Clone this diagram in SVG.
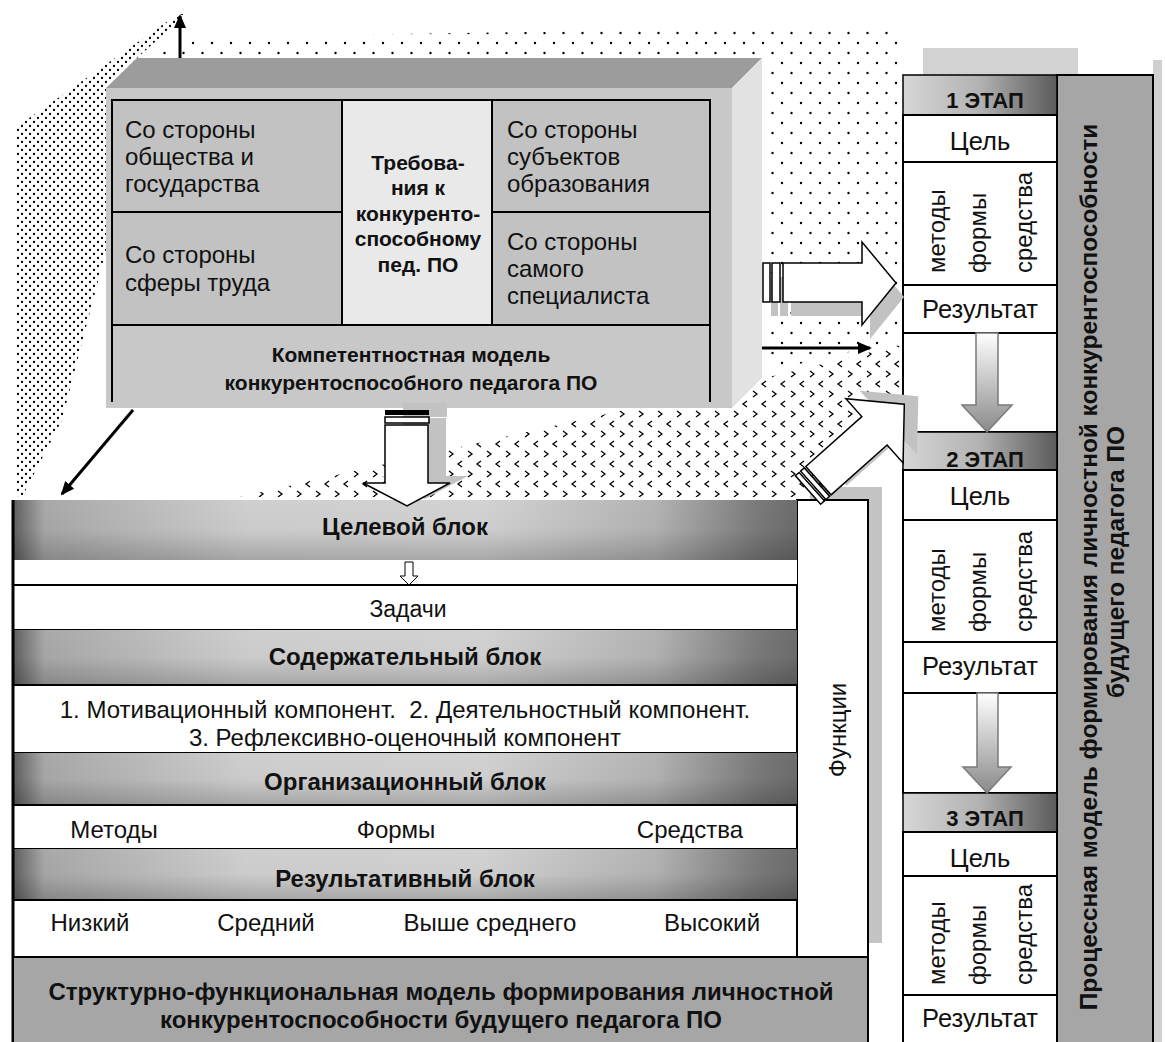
<svg xmlns="http://www.w3.org/2000/svg" width="1165" height="1042" viewBox="0 0 1165 1042">
<defs>
<style>
text{font-family:"Liberation Sans",Arial,sans-serif;fill:#111}
.r{font-size:24px}
.rs{font-size:24px}
.st{font-size:25.5px}
.b{font-size:24px;font-weight:bold}
.bm{font-size:21px;font-weight:bold}
.c{text-anchor:middle}
.ln{stroke:#000;stroke-width:2;fill:none}
.wr{fill:#fff;stroke:#000;stroke-width:2}
.wa{fill:#fff;stroke:#000;stroke-width:1.5}
.sh{fill:#c2c2c2}
.sg{fill:url(#gStage);stroke:#000;stroke-width:1.5}
.da{fill:url(#gArr);stroke:#7a7a7a;stroke-width:1.5}
.conn{stroke:#000;stroke-width:3;fill:none;marker-end:url(#ah)}
</style>
<pattern id="pDense" width="8" height="8" patternUnits="userSpaceOnUse"><circle cx="2" cy="2" r="1.15"/><circle cx="6" cy="6" r="1.15"/></pattern>
<pattern id="pSparse" width="19" height="20" patternUnits="userSpaceOnUse"><circle cx="3" cy="3" r="1.2"/><circle cx="12.5" cy="13" r="1.2"/></pattern>
<pattern id="pChev" width="19" height="20" patternUnits="userSpaceOnUse"><path d="M6,1 L2,4 L6,7" fill="none" stroke="#000" stroke-width="1.3"/><path d="M12,11 L16,14 L12,17" fill="none" stroke="#000" stroke-width="1.3"/></pattern>
<linearGradient id="gHdr" x1="0" y1="0" x2="1" y2="0">
<stop offset="0" stop-color="#5e5e5e"/><stop offset="0.04" stop-color="#a8a8a8"/><stop offset="0.3" stop-color="#cfcfcf"/><stop offset="0.6" stop-color="#d2d2d2"/><stop offset="0.82" stop-color="#b3b3b3"/><stop offset="0.95" stop-color="#7a7a7a"/><stop offset="1" stop-color="#6c6c6c"/>
</linearGradient>
<linearGradient id="gHdrV" x1="0" y1="0" x2="0" y2="1">
<stop offset="0" stop-color="#000" stop-opacity="0"/><stop offset="0.5" stop-color="#000" stop-opacity="0.02"/><stop offset="1" stop-color="#000" stop-opacity="0.2"/>
</linearGradient>
<linearGradient id="gStage" x1="0" y1="0" x2="1" y2="0">
<stop offset="0" stop-color="#d6d6d6"/><stop offset="0.5" stop-color="#b2b2b2"/><stop offset="1" stop-color="#5a5a5a"/>
</linearGradient>
<linearGradient id="gArr" x1="0" y1="0" x2="0" y2="1">
<stop offset="0" stop-color="#ffffff"/><stop offset="1" stop-color="#8a8a8a"/>
</linearGradient>
<marker id="ah" markerWidth="14" markerHeight="12" refX="12" refY="6" orient="auto" markerUnits="userSpaceOnUse"><path d="M0,0 L14,6 L0,12 z" fill="#000"/></marker>
</defs>

<rect width="1165" height="1042" fill="#fff"/>

<!-- background shading -->
<g id="shading">
<polygon points="178,14 186,14 137,58 106,88 106,250 62,420 22,497 15,497 15,128" fill="url(#pDense)"/>
<polygon points="200,37 900,26 900,340 765,372 765,58 137,58" fill="url(#pSparse)"/>
<polygon points="240,497 765,378 900,345 900,430 830,497" fill="url(#pChev)"/>
<rect x="923" y="48" width="155" height="30" fill="#d2d2d2"/>
<rect x="1153" y="60" width="9" height="982" fill="#d0d0d0"/>
<rect x="810" y="487" width="72" height="456" fill="#c4c4c4"/>
</g>

<!-- competence model box -->
<g id="competence-model">
<polygon points="106,88 137,58 762,58 732,88" fill="#9c9c9c"/>
<polygon points="732,88 762,58 762,378 732,408" fill="#e2e2e2"/>
<rect x="106" y="88" width="626" height="320" fill="#c8c8c8"/>
<rect x="112" y="100" width="230" height="225" fill="#c2c2c2"/>
<rect x="342" y="100" width="150" height="225" fill="#e9e9e9"/>
<rect x="492" y="100" width="218" height="225" fill="#c2c2c2"/>
<path class="ln" d="M112,402 V100 H710 V402 M112,212 H342 M492,212 H710 M112,325 H710 M342,100 V325 M492,100 V325"/>
<text class="r" x="125" y="138">Со стороны</text>
<text class="r" x="125" y="165">общества и</text>
<text class="r" x="125" y="192">государства</text>
<text class="r" x="125" y="263">Со стороны</text>
<text class="r" x="125" y="291">сферы труда</text>
<text class="r" x="507" y="138">Со стороны</text>
<text class="r" x="507" y="165">субъектов</text>
<text class="r" x="507" y="192">образования</text>
<text class="r" x="507" y="250">Со стороны</text>
<text class="r" x="507" y="277">самого</text>
<text class="r" x="507" y="304">специалиста</text>
<text class="bm c" x="418" y="170">Требова-</text>
<text class="bm c" x="418" y="195">ния к</text>
<text class="bm c" x="418" y="221">конкуренто-</text>
<text class="bm c" x="418" y="246">способному</text>
<text class="bm c" x="418" y="272">пед. ПО</text>
<text class="bm c" x="411" y="362">Компетентностная модель</text>
<text class="bm c" x="411" y="390">конкурентоспособного педагога ПО</text>
</g>

<!-- structural-functional model -->
<g id="structural-model">
<rect x="797" y="500" width="71" height="457" class="wr"/>
<text class="rs c" transform="translate(846,730) rotate(-90)">Функции</text>
<rect x="13" y="500" width="784" height="457" fill="#fff"/>
<g id="goal-block">
<rect x="13" y="500" width="784" height="60" fill="url(#gHdr)"/>
<rect x="13" y="500" width="784" height="60" fill="url(#gHdrV)"/>
<text class="b c" x="405" y="535">Целевой блок</text>
</g>
<g id="tasks">
<rect x="13" y="585" width="784" height="45" class="wr"/>
<text class="c" x="408" y="617" style="font-size:23px">Задачи</text>
</g>
<g id="content-block">
<rect x="13" y="630" width="784" height="55" fill="url(#gHdr)"/>
<rect x="13" y="630" width="784" height="55" fill="url(#gHdrV)"/>
<text class="b c" x="405" y="665">Содержательный блок</text>
</g>
<g id="components">
<rect x="13" y="685" width="784" height="68" class="wr"/>
<text class="rs c" x="405" y="718" style="white-space:pre">1. Мотивационный компонент.  2. Деятельностный компонент.</text>
<text class="rs c" x="405" y="746">3. Рефлексивно-оценочный компонент</text>
</g>
<g id="org-block">
<rect x="13" y="753" width="784" height="52" fill="url(#gHdr)"/>
<rect x="13" y="753" width="784" height="52" fill="url(#gHdrV)"/>
<text class="b c" x="405" y="790">Организационный блок</text>
</g>
<g id="org-items">
<rect x="13" y="805" width="784" height="44" class="wr"/>
<text class="rs c" x="114" y="838">Методы</text>
<text class="rs c" x="396" y="838">Формы</text>
<text class="rs c" x="690" y="838">Средства</text>
</g>
<g id="result-block">
<rect x="13" y="849" width="784" height="51" fill="url(#gHdr)"/>
<rect x="13" y="849" width="784" height="51" fill="url(#gHdrV)"/>
<text class="b c" x="405" y="887">Результативный блок</text>
</g>
<g id="levels">
<rect x="13" y="900" width="784" height="57" class="wr"/>
<text class="rs c" x="90" y="931">Низкий</text>
<text class="rs c" x="266" y="931">Средний</text>
<text class="rs c" x="490" y="931">Выше среднего</text>
<text class="rs c" x="712" y="931">Высокий</text>
</g>
<path class="ln" d="M13,500 V1042" style="stroke-width:3"/>
<g id="structural-title">
<rect x="13" y="957" width="855" height="86" fill="#a6a6a6" stroke="#000" stroke-width="2"/>
<text class="b c" x="441" y="1000">Структурно-функциональная модель формирования личностной</text>
<text class="b c" x="441" y="1028">конкурентоспособности будущего педагога ПО</text>
</g>
</g>

<!-- process model -->
<g id="process-model">
<rect x="1057" y="75" width="96" height="970" fill="#a6a6a6" stroke="#000" stroke-width="2"/>
<text class="b c" transform="translate(1097,567) rotate(-90)" style="font-size:24.4px">Процессная модель формирования личностной конкурентоспособности</text>
<text class="b c" transform="translate(1124,562) rotate(-90)" style="font-size:24.4px">будущего педагога ПО</text>
</g>

<g id="stage-1">
<rect x="903" y="75" width="154" height="40" class="sg"/>
<text class="b c" x="985" y="108" style="font-size:22px">1 ЭТАП</text>
<rect x="903" y="115" width="154" height="47" class="wr"/>
<text class="st c" x="980" y="150">Цель</text>
<rect x="903" y="162" width="154" height="123" class="wr"/>
<text class="r" transform="translate(945,273) rotate(-90)">методы</text>
<text class="r" transform="translate(986,273) rotate(-90)">формы</text>
<text class="r" transform="translate(1032,273) rotate(-90)">средства</text>
<rect x="903" y="285" width="154" height="48" class="wr"/>
<text class="st c" x="980" y="318">Результат</text>
<rect x="903" y="333" width="154" height="99" class="wr"/>
</g>

<g id="stage-2">
<rect x="903" y="432" width="154" height="38" class="sg"/>
<text class="b c" x="985" y="467" style="font-size:22px">2 ЭТАП</text>
<rect x="903" y="470" width="154" height="50" class="wr"/>
<text class="st c" x="980" y="505">Цель</text>
<rect x="903" y="520" width="154" height="122" class="wr"/>
<text class="r" transform="translate(945,632) rotate(-90)">методы</text>
<text class="r" transform="translate(986,632) rotate(-90)">формы</text>
<text class="r" transform="translate(1032,632) rotate(-90)">средства</text>
<rect x="903" y="642" width="154" height="51" class="wr"/>
<text class="st c" x="980" y="675">Результат</text>
<rect x="903" y="693" width="154" height="100" class="wr"/>
</g>

<g id="stage-3">
<rect x="903" y="793" width="154" height="39" class="sg"/>
<text class="b c" x="985" y="826" style="font-size:22px">3 ЭТАП</text>
<rect x="903" y="832" width="154" height="44" class="wr"/>
<text class="st c" x="980" y="867">Цель</text>
<rect x="903" y="876" width="154" height="119" class="wr"/>
<text class="r" transform="translate(945,985) rotate(-90)">методы</text>
<text class="r" transform="translate(986,985) rotate(-90)">формы</text>
<text class="r" transform="translate(1032,985) rotate(-90)">средства</text>
<rect x="903" y="995" width="154" height="50" class="wr"/>
<text class="st c" x="980" y="1027">Результат</text>
</g>

<!-- connectors -->
<g id="connectors">
<path class="conn" d="M180,58 V16"/>
<path class="conn" d="M133,410 L62,494"/>
<path class="conn" d="M762,348 H870"/>
<polygon class="da" points="976,333 998,333 998,405 1012,405 987,432 962,405 976,405"/>
<polygon class="da" points="977,693 998,693 998,767 1011,767 987,793 963,767 977,767"/>
<!-- horizontal block arrow -->
<g transform="translate(8,14)" class="sh">
<rect x="763" y="263" width="7" height="39"/><rect x="772" y="263" width="8" height="39"/>
<polygon points="783,263 862,263 862,242 896,283 862,325 862,302 783,302"/>
</g>
<rect x="763" y="263" width="7" height="39" class="wa"/>
<rect x="772" y="263" width="8" height="39" class="wa"/>
<polygon class="wa" points="783,263 862,263 862,242 896,283 862,325 862,302 783,302"/>
<!-- down block arrow -->
<g transform="translate(18,-7)" class="sh">
<rect x="385" y="410" width="44" height="14"/>
<polygon points="385,425 428,425 428,483 450,483 407,506 363,483 385,483"/>
</g>
<rect x="385" y="410" width="44" height="5" fill="#000"/>
<rect x="385" y="417" width="44" height="6" class="wa"/>
<polygon class="wa" points="385,425 428,425 428,483 450,483 407,506 363,483 385,483"/>
<!-- diagonal block arrow -->
<g transform="translate(822,482) rotate(-41.7)" class="sh">
<polygon points="16,-19 89,-19 89,-43 129,0 89,43 89,19 16,19"/>
</g>
<g transform="translate(808,490) rotate(-41.7)">
<rect x="0" y="-19" width="5" height="38" class="wa"/>
<rect x="7" y="-19" width="5" height="38" class="wa"/>
<polygon class="wa" points="14,-19 89,-19 89,-43 129,0 89,43 89,19 14,19"/>
</g>
<!-- small arrow -->
<polygon class="wa" style="stroke-width:1" points="405,562 413,562 413,576 418,576 409,585 400,576 405,576"/>
</g>
</svg>
